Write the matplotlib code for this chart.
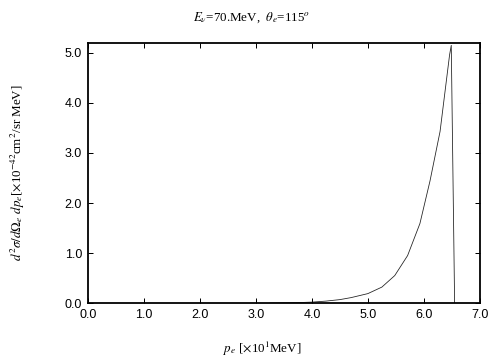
import matplotlib
matplotlib.use("Agg")
import matplotlib.pyplot as plt

# cross section vs electron momentum
p_e = [3.25, 3.5, 3.75, 4.0, 4.25, 4.5, 4.7, 5.0, 5.25, 5.48, 5.71, 5.93, 6.11, 6.29, 6.46, 6.49, 6.55]
xsec = [0.0, 0.005, 0.01, 0.02, 0.04, 0.07, 0.11, 0.19, 0.32, 0.55, 0.95, 1.59, 2.44, 3.43, 4.96, 5.15, 0.0]

xticks = [0, 1, 2, 3, 4, 5, 6, 7]
yticks = [0, 1, 2, 3, 4, 5]

plt.rcParams["mathtext.fontset"] = "stix"

fig = plt.figure(figsize=(7, 5), dpi=72)
ax = fig.add_axes([0.1746, 0.158, 0.7774, 0.723])

ax.plot(p_e, xsec, color="#222222", lw=0.8)

ax.set_xlim(0, 7)
ax.set_ylim(0, 5.2)
ax.set_xticks(xticks)
ax.set_yticks(yticks)
ax.set_xticklabels(["%.1f" % v for v in xticks], family="Liberation Sans", fontsize=12.5)
ax.set_yticklabels(["%.1f" % v for v in yticks], family="Liberation Sans", fontsize=12.5)
ax.tick_params(direction="in", length=5, width=1, top=True, right=True, pad=6)
for s in ax.spines.values():
    s.set_linewidth(1.8)

serif = dict(family="Liberation Serif", fontsize=13)
fig.text(0.5, 0.95, r"$E_\nu$=70.MeV,  $\theta_e$=115$^o$", ha="center", va="center", **serif)
fig.text(0.036, 0.52, r"$d^2\sigma/d\Omega_e$ $dp_e$[$\times$10$^{-42}$cm$^2$/sr MeV]",
         rotation=90, ha="center", va="center", **serif)
fig.text(0.52, 0.03, r"$p_e$ [$\times$10$^1$MeV]", ha="center", va="center", **serif)

fig.savefig("out.png")
